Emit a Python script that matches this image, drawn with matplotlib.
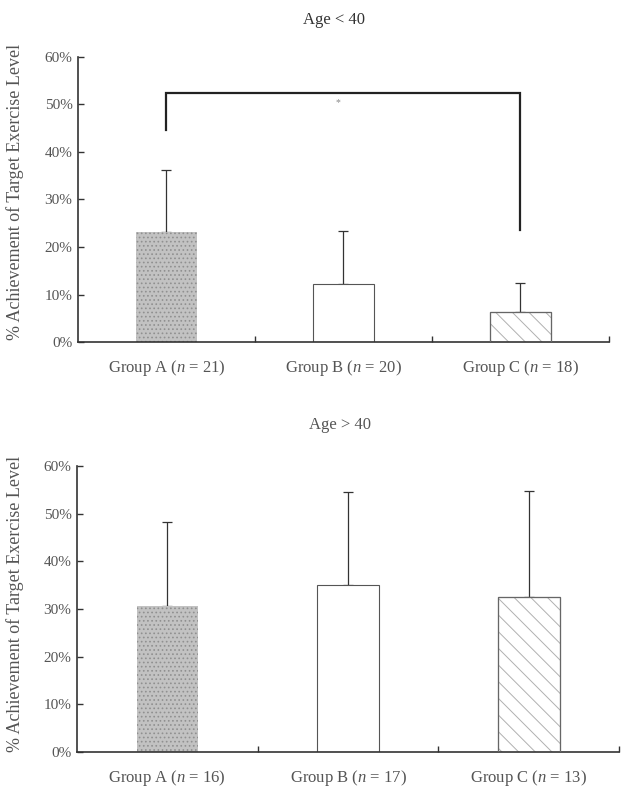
import matplotlib
matplotlib.use("Agg")
import matplotlib.pyplot as plt

# values (percent)
groups = ["Group A", "Group B", "Group C"]
young_n = [21, 20, 18]
young_mean = [23.2, 12.3, 6.3]
young_sd = [13.1, 11.1, 6.1]
old_n = [16, 17, 13]
old_mean = [30.7, 35.1, 32.5]
old_sd = [17.5, 19.5, 22.2]
yticks = [0, 10, 20, 30, 40, 50, 60]
bracket_y = 52.4
bracket_left_end = 44.6
bracket_right_end = 23.6

plt.rcParams["font.family"] = ["Liberation Serif", "DejaVu Serif"]
plt.rcParams["mathtext.fontset"] = "custom"
plt.rcParams["mathtext.it"] = "Liberation Serif:italic"
plt.rcParams["mathtext.rm"] = "Liberation Serif"
plt.rcParams["hatch.linewidth"] = 0.7

TEXT = "#555555"
LINE = "#333333"


def draw_panel(ax, means, sds, ns):
    x = list(range(len(groups)))
    styles = [
        dict(color="#c2c2c2", edgecolor="#909090", hatch="....", linewidth=0),
        dict(color="white", edgecolor="#555555", linewidth=0.8),
        dict(color="white", edgecolor="#b0b0b0", hatch="\\\\", linewidth=0.8),
    ]
    for i in x:
        ax.bar(i, means[i], width=0.34, zorder=2, **styles[i])
        if i == 2:
            # dark outline on top of the hatch colour
            ax.bar(i, means[i], width=0.34, fill=False, edgecolor="#666666",
                   linewidth=0.9, zorder=3)
        ax.errorbar(i, means[i], yerr=[[0], [sds[i]]], fmt="none",
                    ecolor=LINE, elinewidth=0.9, capsize=3.5, capthick=0.9, zorder=1)
    ax.set_xlim(-0.5, 2.5)
    ax.set_ylim(0, 60)
    ax.set_yticks(yticks)
    ax.set_yticklabels([f"{v}%" for v in yticks], color=TEXT, fontsize=11)
    ax.tick_params(axis="y", direction="in", length=4, width=1, color=LINE, pad=4)
    ax.set_xticks([0.5, 1.5, 2.5])
    ax.set_xticklabels([])
    ax.tick_params(axis="x", direction="in", length=4, width=1, color=LINE)
    for g, n, xi in zip(groups, ns, x):
        ax.text(xi, -0.09, f"{g} ($\\it{{n}}$ = {n})", transform=ax.get_xaxis_transform(),
                ha="center", va="center", fontsize=12, color=TEXT)
    for side in ("top", "right"):
        ax.spines[side].set_visible(False)
    for side in ("left", "bottom"):
        ax.spines[side].set_color(LINE)
        ax.spines[side].set_linewidth(1.2)


fig = plt.figure(figsize=(6.21, 7.89), dpi=100)
ax1 = fig.add_axes([0.1256, 0.5665, 0.855, 0.3613])
ax2 = fig.add_axes([0.124, 0.0469, 0.873, 0.3625])

draw_panel(ax1, young_mean, young_sd, young_n)
draw_panel(ax2, old_mean, old_sd, old_n)

# significance bracket between group A and group C (young)
ax1.plot([0, 0, 2, 2], [bracket_left_end, bracket_y, bracket_y, bracket_right_end],
         color="#222222", linewidth=1.6, solid_joinstyle="miter", zorder=4)
ax1.text(0.97, bracket_y - 2.0, "*", ha="center", va="center", fontsize=7, color="#888888")

fig.text(0.538, 0.975, "Age < 40", ha="center", va="center", fontsize=12, color="#333333")
fig.text(0.547, 0.461, "Age > 40", ha="center", va="center", fontsize=12, color="#555555")

ylabel = "% Achievement of Target Exercise Level"
fig.text(0.024, 0.757, ylabel, rotation=90, ha="center", va="center", fontsize=13, color=TEXT)
fig.text(0.024, 0.234, ylabel, rotation=90, ha="center", va="center", fontsize=13, color=TEXT)

fig.savefig("out.png", dpi=100)
